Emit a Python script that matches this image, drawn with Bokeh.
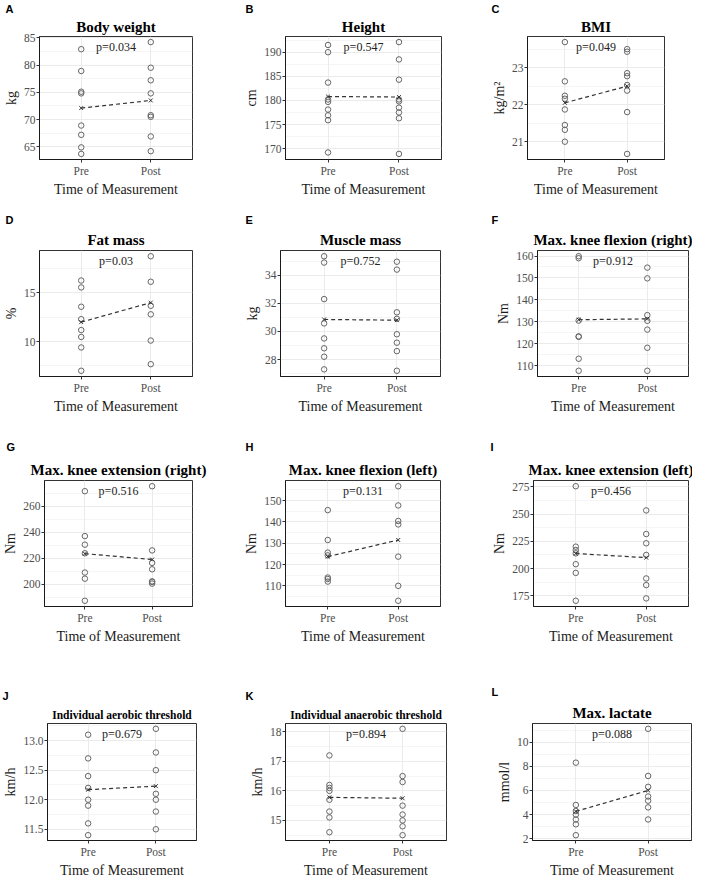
from bokeh.plotting import figure
from bokeh.layouts import row, column
from bokeh.models import FixedTicker, Title, Range1d, PrintfTickFormatter
from bokeh.core.properties import value
from bokeh.embed import file_html
from bokeh.resources import INLINE

# ---------------- data ----------------
times = ["Pre", "Post"]
x_axis_label = "Time of Measurement"

panel_letters = ["A", "B", "C", "D", "E", "F", "G", "H", "I", "J", "K", "L"]
panel_titles = ["Body weight", "Height", "BMI", "Fat mass", "Muscle mass",
                "Max. knee flexion (right)", "Max. knee extension (right)",
                "Max. knee flexion (left)", "Max. knee extension (left)",
                "Individual aerobic threshold", "Individual anaerobic threshold",
                "Max. lactate"]
y_units = ["kg", "cm", "kg/m\u00b2", "%", "kg", "Nm", "Nm", "Nm", "Nm", "km/h", "km/h", "mmol/l"]
p_values = ["p=0.034", "p=0.547", "p=0.049", "p=0.03", "p=0.752", "p=0.912",
            "p=0.516", "p=0.131", "p=0.456", "p=0.679", "p=0.894", "p=0.088"]

body_weight_pre = [82.9, 78.9, 75.1, 74.8, 68.9, 67.2, 64.9, 63.7]
body_weight_post = [84.2, 79.5, 77.2, 74.8, 70.8, 70.5, 66.9, 64.2]
body_weight_mean = [72.1, 73.5]

height_pre = [191.5, 190.0, 183.7, 180.2, 179.7, 178.1, 176.9, 175.9, 169.2]
height_post = [192.1, 188.5, 184.3, 180.2, 179.8, 178.5, 177.5, 176.3, 168.9]
height_mean = [180.8, 180.7]

bmi_pre = [23.69, 22.63, 22.24, 22.16, 21.87, 21.45, 21.32, 21.0]
bmi_post = [23.5, 23.43, 22.85, 22.77, 22.53, 22.38, 21.8, 20.67]
bmi_mean = [22.05, 22.5]

fat_pre = [16.28, 15.57, 13.58, 12.3, 11.18, 10.47, 9.39, 6.99]
fat_post = [18.78, 16.15, 13.68, 12.8, 10.1, 7.67]
fat_mean = [12.0, 14.0]

muscle_pre = [35.35, 34.9, 32.3, 30.57, 29.5, 28.8, 28.2, 27.3]
muscle_post = [34.96, 34.4, 31.36, 30.9, 29.8, 29.2, 28.6, 27.2]
muscle_mean = [30.85, 30.8]

flex_right_pre = [159.9, 159.0, 130.5, 123.3, 123.1, 113.1, 107.6]
flex_right_post = [154.7, 149.8, 133.0, 130.4, 126.4, 118.1, 107.6]
flex_right_mean = [130.9, 131.3]

ext_right_pre = [271.5, 237.0, 230.4, 223.8, 209.0, 204.3, 187.3]
ext_right_post = [275.3, 226.0, 216.4, 211.5, 202.2, 201.8, 200.5]
ext_right_mean = [223.5, 219.0]

flex_left_pre = [145.5, 131.5, 125.6, 124.3, 113.9, 113.2, 112.0]
flex_left_post = [156.7, 147.7, 140.4, 138.8, 123.7, 110.0, 103.0]
flex_left_mean = [123.7, 131.5]

ext_left_pre = [275.6, 220.1, 217.0, 214.0, 204.0, 196.0, 170.4]
ext_left_post = [253.4, 231.7, 223.2, 212.5, 190.9, 184.8, 172.6]
ext_left_mean = [213.8, 210.0]

aerobic_pre = [13.1, 12.7, 12.4, 12.2, 12.0, 11.9, 11.6, 11.4]
aerobic_post = [13.2, 12.8, 12.5, 12.1, 12.0, 11.8, 11.5]
aerobic_mean = [12.17, 12.23]

anaerobic_pre = [17.2, 16.2, 16.1, 16.0, 15.7, 15.3, 15.1, 14.6]
anaerobic_post = [18.1, 16.5, 16.3, 15.5, 15.2, 15.0, 14.8, 14.5]
anaerobic_mean = [15.78, 15.75]

lactate_pre = [8.3, 4.8, 4.3, 4.0, 3.6, 3.2, 2.3]
lactate_post = [11.1, 7.2, 6.3, 5.5, 5.15, 4.6, 3.6]
lactate_mean = [4.27, 6.0]

y_ticks = [
    [65, 70, 75, 80, 85],
    [170, 175, 180, 185, 190],
    [21, 22, 23],
    [10, 15],
    [28, 30, 32, 34],
    [110, 120, 130, 140, 150, 160],
    [200, 220, 240, 260],
    [100, 110, 120, 130, 140, 150],
    [175, 200, 225, 250, 275],
    [11.5, 12.0, 12.5, 13.0],
    [15, 16, 17, 18],
    [2, 4, 6, 8, 10],
]

series = [
    (body_weight_pre, body_weight_post, body_weight_mean),
    (height_pre, height_post, height_mean),
    (bmi_pre, bmi_post, bmi_mean),
    (fat_pre, fat_post, fat_mean),
    (muscle_pre, muscle_post, muscle_mean),
    (flex_right_pre, flex_right_post, flex_right_mean),
    (ext_right_pre, ext_right_post, ext_right_mean),
    (flex_left_pre, flex_left_post, flex_left_mean),
    (ext_left_pre, ext_left_post, ext_left_mean),
    (aerobic_pre, aerobic_post, aerobic_mean),
    (anaerobic_pre, anaerobic_post, anaerobic_mean),
    (lactate_pre, lactate_post, lactate_mean),
]

# ---------------- layout / style ----------------
col_w = [228, 236, 228]
row_h = [210, 216, 230, 224]
# borders: left, right, top, bottom
borders = [
    (34, 36, 32, 50), (57, 23, 32, 51), (63, 28, 32, 50),
    (34, 36, 39, 50), (52, 24, 39, 50), (73, 4, 39, 50),
    (40, 36, 54, 50), (57, 24, 54, 50), (69, 4, 54, 50),
    (45, 32, 63, 36), (57, 18, 63, 36), (68, 1, 67, 36),
]
letter_offsets = [-34, -40, -36, -34, -35, -46, -38, -40, -43, -45, -40, -41]
letter_standoff = [0, 0, 0, 3, 3, 3, 8, 8, 8, 4, 4, 4]
title_standoff = [4, 4, 4, 5, 5, 5, 6, 6, 6, 6, 6, 6]
title_sizes = ["15px"] * 9 + ["11.5px", "11.5px", "15px"]

SERIF = "Liberation Serif"
GRID = "#ebebeb"


def make_panel(i):
    pre, post, means = series[i]
    allv = list(pre) + list(post) + list(means)
    lo, hi = min(allv), max(allv)
    pad = 0.05 * (hi - lo)
    bl, br, bt, bb = borders[i]
    w = col_w[i % 3]
    h = row_h[i // 3]
    p = figure(width=w, height=h, output_backend="svg", toolbar_location=None,
               x_range=Range1d(0.4, 2.6), y_range=Range1d(lo - pad, hi + pad),
               min_border_left=bl, min_border_right=br,
               min_border_top=bt, min_border_bottom=bb,
               background_fill_color="white", border_fill_color="white",
               outline_line_color="#333333", outline_line_width=1)

    x_pre = times.index("Pre") + 1
    x_post = times.index("Post") + 1

    # titles
    p.add_layout(Title(text=panel_titles[i], align="center", text_font=SERIF,
                       text_font_style="bold", text_font_size=title_sizes[i],
                       text_color="black", standoff=title_standoff[i]), "above")
    p.add_layout(Title(text=panel_letters[i], align="left", offset=letter_offsets[i],
                       text_font="Liberation Sans", text_font_style="bold",
                       text_font_size="11px", text_color="black",
                       standoff=letter_standoff[i]), "above")

    # axes
    tk = y_ticks[i]
    step = tk[1] - tk[0]
    minor = [t - step / 2 for t in tk] + [tk[-1] + step / 2]
    p.yaxis.ticker = FixedTicker(ticks=tk, minor_ticks=minor)
    if i == 9:
        p.yaxis.formatter = PrintfTickFormatter(format="%.1f")
    p.xaxis.ticker = FixedTicker(ticks=[x_pre, x_post])
    p.xaxis.major_label_overrides = {x_pre: times[0], x_post: times[1]}

    p.xaxis.axis_label = x_axis_label
    p.yaxis.axis_label = y_units[i]
    for ax in (p.xaxis, p.yaxis):
        ax.axis_label_text_font = SERIF
        ax.axis_label_text_font_style = "normal"
        ax.axis_label_text_font_size = "14px"
        ax.axis_label_text_color = "#1a1a1a"
        ax.major_label_text_font = SERIF
        ax.major_label_text_font_size = "11.5px"
        ax.major_label_text_color = "#4d4d4d"
        ax.major_tick_in = 0
        ax.major_tick_out = 3
        ax.minor_tick_out = 0
        ax.major_tick_line_color = "#333333"
        ax.minor_tick_line_color = None
        ax.axis_line_color = "#1a1a1a"
    p.xaxis.axis_label_standoff = 2
    p.xaxis.major_label_standoff = 2
    p.yaxis.axis_label_standoff = 2
    p.yaxis.major_label_standoff = 1

    p.xgrid.grid_line_color = GRID
    p.ygrid.grid_line_color = GRID
    p.ygrid.minor_grid_line_color = GRID
    p.ygrid.minor_grid_line_width = 0.5

    # points
    p.scatter(x=[x_pre] * len(pre), y=pre, marker="circle", size=5.5,
              fill_color=None, line_color="#666666", line_width=1)
    p.scatter(x=[x_post] * len(post), y=post, marker="circle", size=5.5,
              fill_color=None, line_color="#666666", line_width=1)
    # mean line and markers
    p.line(x=[x_pre, x_post], y=means, line_dash="4 3", line_color="#333333", line_width=1.2)
    p.scatter(x=[x_pre, x_post], y=means, marker="x", size=5.5,
              line_color="#333333", line_width=1)
    # p-value
    p.text(x=[(x_pre + x_post) / 2], y=[hi + pad], text=[p_values[i]],
           text_font=value(SERIF), text_font_size="12px", text_color="#222222",
           text_align="center", text_baseline="top", y_offset=3)
    return p


panels = [make_panel(i) for i in range(12)]
rows = [row(*panels[r * 3:(r + 1) * 3], spacing=0) for r in range(4)]
layout = column(*rows, spacing=0)

open("out.html", "w").write(file_html(layout, INLINE))
